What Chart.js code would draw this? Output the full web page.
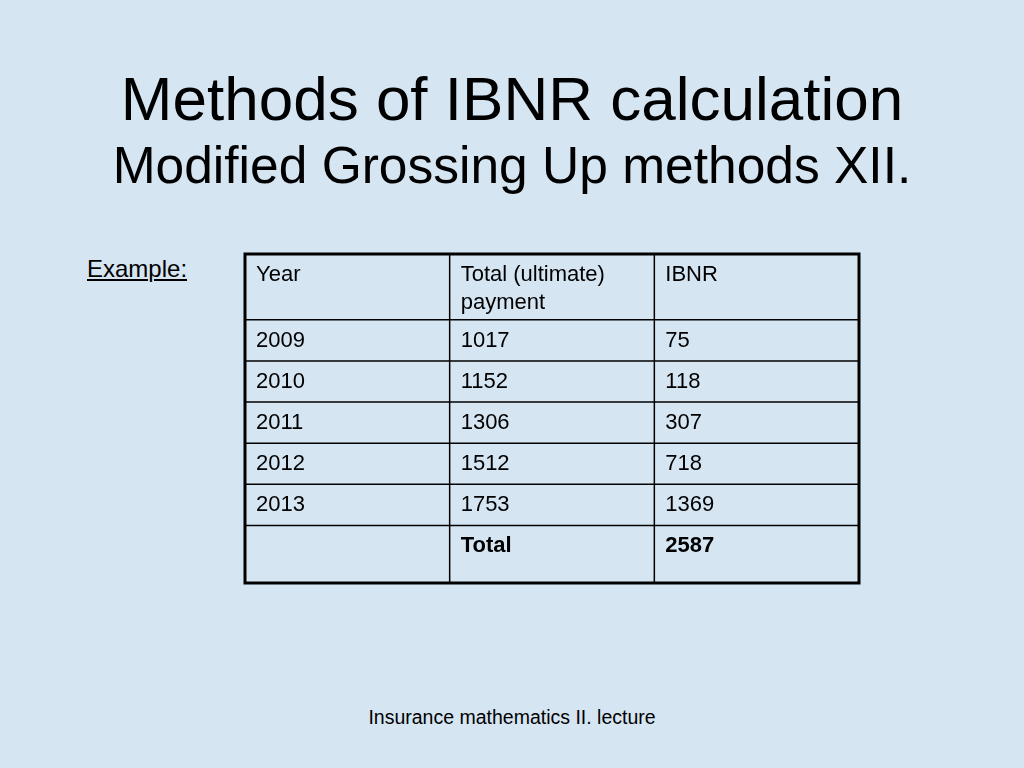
<!DOCTYPE html>
<html><head><meta charset="utf-8">
<script src="https://cdn.jsdelivr.net/npm/chart.js@4.4.0/dist/chart.umd.min.js"></script>
<style>
html,body{margin:0;padding:0;}
body{width:1024px;height:768px;position:relative;overflow:hidden;font-family:"Liberation Sans",Arial,sans-serif;
background:#d5e5f2;}
.t{position:absolute;left:0;width:1024px;text-align:center;color:#000;white-space:nowrap;}
#wrap{position:absolute;left:0;top:0;width:1024px;height:768px;}
</style></head><body>
<div class="t" style="top:63px;font-size:62px;">Methods of IBNR calculation</div>
<div class="t" style="top:135px;font-size:51.5px;">Modified Grossing Up methods XII.</div>
<div style="position:absolute;left:87px;top:255px;font-size:24px;text-decoration:underline;">Example:</div>
<div class="t" style="top:706px;font-size:19.5px;">Insurance mathematics II. lecture</div>
<div id="wrap"><canvas id="c"></canvas></div>
<script>
const headers = ["Year", "Total (ultimate)\npayment", "IBNR"];
const years = ["2009", "2010", "2011", "2012", "2013", ""];
const totals = ["1017", "1152", "1306", "1512", "1753", "Total"];
const ibnr = ["75", "118", "307", "718", "1369", "2587"];
const rowSpans = [1.6, 1, 1, 1, 1, 1, 1.4];

const tablePlugin = {
  id: 'table',
  afterDraw(chart) {
    const ctx = chart.ctx, xs = chart.scales.x, ys = chart.scales.y;
    const rows = [headers, ...years.map((y, i) => [y, totals[i], ibnr[i]])];
    let edges = [0];
    rowSpans.forEach(s => edges.push(edges[edges.length - 1] + s));
    ctx.save();
    ctx.strokeStyle = '#000';
    ctx.lineWidth = 1.5;
    for (let i = 1; i < edges.length - 1; i++) {
      const y = ys.getPixelForValue(edges[i]);
      ctx.beginPath(); ctx.moveTo(xs.getPixelForValue(0), y); ctx.lineTo(xs.getPixelForValue(3), y); ctx.stroke();
    }
    for (let c = 1; c < 3; c++) {
      const x = xs.getPixelForValue(c);
      ctx.beginPath(); ctx.moveTo(x, ys.getPixelForValue(0)); ctx.lineTo(x, ys.getPixelForValue(edges[edges.length-1])); ctx.stroke();
    }
    ctx.lineWidth = 3;
    const x0 = xs.getPixelForValue(0), x1 = xs.getPixelForValue(3);
    const y0 = ys.getPixelForValue(0), y1 = ys.getPixelForValue(edges[edges.length-1]);
    ctx.strokeRect(x0, y0, x1 - x0, y1 - y0);
    ctx.fillStyle = '#000';
    ctx.textBaseline = 'top';
    rows.forEach((r, ri) => {
      const top = ys.getPixelForValue(edges[ri]);
      r.forEach((txt, ci) => {
        const bold = ri === rows.length - 1 && ci > 0;
        ctx.font = (bold ? 'bold ' : '') + '22px "Liberation Sans", Arial, sans-serif';
        const left = xs.getPixelForValue(ci) + 11;
        String(txt).split('\n').forEach((line, li) => ctx.fillText(line, left, top + 10 + li * 28));
      });
    });
    ctx.restore();
  }
};

new Chart(document.getElementById('c'), {
  type: 'scatter',
  data: { datasets: [{ data: [] }] },
  options: {
    responsive: true, maintainAspectRatio: false, animation: false,
    layout: { padding: { left: 245, right: 165, top: 254, bottom: 185 } },
    plugins: { legend: { display: false }, tooltip: { enabled: false } },
    scales: {
      x: { type: 'linear', min: 0, max: 3, display: false },
      y: { type: 'linear', min: 0, max: 8, reverse: true, display: false }
    }
  },
  plugins: [tablePlugin]
});
</script>
</body></html>
